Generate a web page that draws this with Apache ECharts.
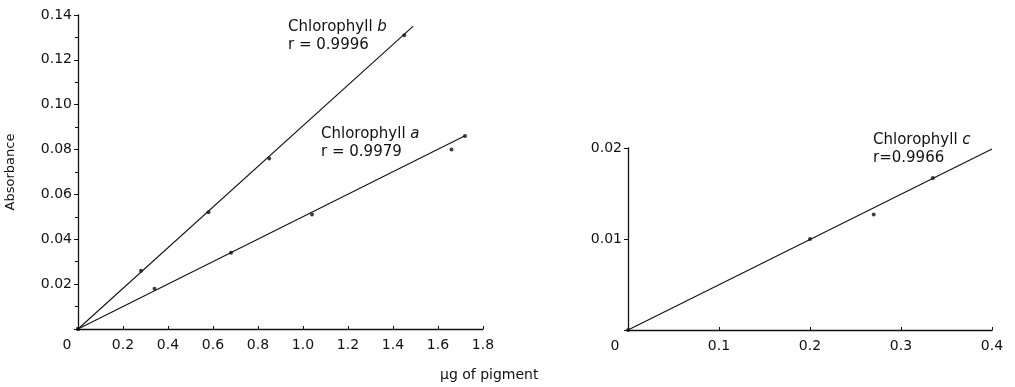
<!DOCTYPE html>
<html>
<head>
<meta charset="utf-8">
<script src="https://cdn.jsdelivr.net/npm/echarts@6/dist/echarts.min.js"></script>
<style>
  html, body { margin: 0; padding: 0; background: #fff; }
  #chart { width: 1015px; height: 387px; }
</style>
</head>
<body>
<div id="chart"></div>
<script>
// Calibration data: absorbance versus µg of pigment
const chlAPoints = [[0, 0], [0.34, 0.018], [0.68, 0.034], [1.04, 0.051], [1.66, 0.080], [1.72, 0.086]];
const chlBPoints = [[0, 0], [0.28, 0.026], [0.58, 0.052], [0.85, 0.076], [1.45, 0.131]];
const chlCPoints = [[0, 0], [0.20, 0.0100], [0.27, 0.0127], [0.335, 0.0167]];

// Regression lines (start and end of each fitted line)
const fitA = [[0, 0], [1.72, 0.0862]];
const fitB = [[0, 0], [1.49, 0.135]];
const fitC = [[0, 0], [0.4, 0.0199]];

const leftXTicks = [0, 0.2, 0.4, 0.6, 0.8, 1.0, 1.2, 1.4, 1.6, 1.8];
const leftYTicks = [0.02, 0.04, 0.06, 0.08, 0.10, 0.12, 0.14];
const rightXTicks = [0, 0.1, 0.2, 0.3, 0.4];
const rightYTicks = [0.01, 0.02];

const FONT = 'DejaVu Sans';
const INK = '#111';

function fmtX(ticks) {
  return function (v) {
    const hit = ticks.find(t => Math.abs(t - v) < 1e-9);
    if (hit === undefined) return '';
    if (hit === 0) return '{z|0}';
    return hit.toFixed(1);
  };
}
function fmtY(ticks, digits) {
  return function (v) {
    const hit = ticks.find(t => Math.abs(t - v) < 1e-9);
    return hit === undefined ? '' : hit.toFixed(digits);
  };
}

const labelBase = { color: INK, fontFamily: FONT, fontSize: 14 };
const lineStyle = { color: INK, width: 1.1 };
const noteRich = { i: { fontStyle: 'italic', fontFamily: FONT, fontSize: 15, fill: INK } };

const chart = echarts.init(document.getElementById('chart'), null, { renderer: 'canvas' });

const option = {
  backgroundColor: '#fff',
  animation: false,
  grid: [
    { left: 78, top: 15, width: 405, height: 314 },
    { left: 628, top: 148, width: 364, height: 182 }
  ],
  xAxis: [
    {
      gridIndex: 0, type: 'value', min: 0, max: 1.8, interval: 0.2,
      axisLine: { lineStyle: { color: INK, width: 1.3 } },
      axisTick: { show: true, inside: true, length: 3, lineStyle: { color: INK } },
      splitLine: { show: false },
      axisLabel: Object.assign({}, labelBase, {
        margin: 9, formatter: fmtX(leftXTicks),
        rich: { z: Object.assign({}, labelBase, { padding: [0, 22, 0, 0] }) }
      })
    },
    {
      gridIndex: 1, type: 'value', min: 0, max: 0.4, interval: 0.1,
      axisLine: { lineStyle: { color: INK, width: 1.3 } },
      axisTick: { show: true, inside: true, length: 3, lineStyle: { color: INK } },
      splitLine: { show: false },
      axisLabel: Object.assign({}, labelBase, {
        margin: 9, formatter: fmtX(rightXTicks),
        rich: { z: Object.assign({}, labelBase, { padding: [0, 26, 0, 0] }) }
      })
    }
  ],
  yAxis: [
    {
      gridIndex: 0, type: 'value', min: 0, max: 0.14, interval: 0.02,
      name: 'Absorbance', nameLocation: 'middle', nameGap: 61, nameRotate: 90,
      nameTextStyle: { color: INK, fontFamily: FONT, fontSize: 13 },
      axisLine: { lineStyle: { color: INK, width: 1.3 } },
      axisTick: { show: true, length: 4, lineStyle: { color: INK } },
      minorTick: { show: true, splitNumber: 2, length: 3, lineStyle: { color: INK } },
      splitLine: { show: false },
      axisLabel: Object.assign({}, labelBase, { margin: 6, formatter: fmtY(leftYTicks, 2) })
    },
    {
      gridIndex: 1, type: 'value', min: 0, max: 0.02, interval: 0.01,
      axisLine: { lineStyle: { color: INK, width: 1.3 } },
      axisTick: { show: true, length: 4, lineStyle: { color: INK } },
      splitLine: { show: false },
      axisLabel: Object.assign({}, labelBase, { margin: 6, formatter: fmtY(rightYTicks, 2) })
    }
  ],
  series: [
    { type: 'line', xAxisIndex: 0, yAxisIndex: 0, data: fitB, symbol: 'none', lineStyle: lineStyle, z: 2 },
    { type: 'line', xAxisIndex: 0, yAxisIndex: 0, data: fitA, symbol: 'none', lineStyle: lineStyle, z: 2 },
    { type: 'line', xAxisIndex: 1, yAxisIndex: 1, data: fitC, symbol: 'none', lineStyle: lineStyle, z: 2 },
    { type: 'scatter', xAxisIndex: 0, yAxisIndex: 0, data: chlBPoints, symbolSize: 4, itemStyle: { color: INK }, z: 3 },
    { type: 'scatter', xAxisIndex: 0, yAxisIndex: 0, data: chlAPoints, symbolSize: 4, itemStyle: { color: INK }, z: 3 },
    { type: 'scatter', xAxisIndex: 1, yAxisIndex: 1, data: chlCPoints, symbolSize: 4, itemStyle: { color: INK }, z: 3 }
  ],
  graphic: [
    {
      type: 'text', left: 288, top: 18,
      style: { text: 'Chlorophyll {i|b}\nr = 0.9996', fill: INK, font: '15px "DejaVu Sans"', lineHeight: 18, rich: noteRich }
    },
    {
      type: 'text', left: 321, top: 125,
      style: { text: 'Chlorophyll {i|a}\nr = 0.9979', fill: INK, font: '15px "DejaVu Sans"', lineHeight: 18, rich: noteRich }
    },
    {
      type: 'text', left: 873, top: 131,
      style: { text: 'Chlorophyll {i|c}\nr=0.9966', fill: INK, font: '15px "DejaVu Sans"', lineHeight: 18, rich: noteRich }
    },
    {
      type: 'text', left: 440, top: 368,
      style: { text: 'µg of pigment', fill: INK, font: '14px "DejaVu Sans"' }
    }
  ]
};

chart.setOption(option);
</script>
</body>
</html>
